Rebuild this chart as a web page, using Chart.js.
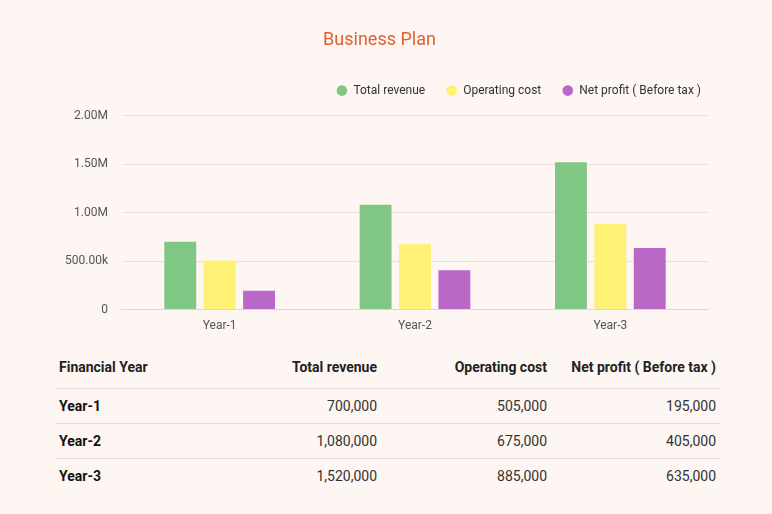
<!DOCTYPE html>
<html>
<head>
<meta charset="utf-8">
<script src="https://cdn.jsdelivr.net/npm/chart.js@4/dist/chart.umd.min.js"></script>
<style>
  html, body { margin: 0; padding: 0; background: #fdf6f2; width: 772px; height: 514px; overflow: hidden; font-family: Roboto, "Noto Sans", sans-serif; }
  #wrap { position: absolute; left: 0; top: 0; width: 772px; height: 340px; }
  table { position: absolute; left: 55px; top: 346px; width: 665px; border-collapse: collapse; font-size: 14px; color: #222; table-layout: fixed; }
  th { font-weight: bold; height: 42px; padding: 0 4px; }
  td { height: 34px; padding: 0 4px; color: #333; }
  td.first { font-weight: bold; color: #111; }
  tr + tr td { border-top: 1px solid #e2dcd8; }
  th.l, td.l { text-align: left; }
  th.r, td.r { text-align: right; }
</style>
</head>
<body>
<div id="wrap"><canvas id="c" width="772" height="340"></canvas></div>
<table id="tbl">
  <colgroup><col style="width:156px"><col style="width:170px"><col style="width:170px"><col style="width:169px"></colgroup>
</table>
<script>
const categories = ["Year-1", "Year-2", "Year-3"];
const seriesNames = ["Total revenue", "Operating cost", "Net profit ( Before tax )"];
const totalRevenue = [700000, 1080000, 1520000];
const operatingCost = [505000, 675000, 885000];
const netProfit = [195000, 405000, 635000];
const yTicks = [0, 500000, 1000000, 1500000, 2000000];
const tableHeader = "Financial Year";
const colors = ["#81c784", "#fff176", "#ba68c8"];

function fmtTick(v) {
  if (v === 0) return "0";
  if (v >= 1000000) return (v / 1000000).toFixed(2) + "M";
  return (v / 1000).toFixed(2) + "k";
}

// Table
const tbl = document.getElementById("tbl");
let html = '<tr class="hdr"><th class="l">' + tableHeader + '</th>' + seriesNames.map(s => '<th class="r">' + s + '</th>').join('') + '</tr>';
categories.forEach((c, i) => {
  html += '<tr><td class="l first">' + c + '</td>' +
    [totalRevenue[i], operatingCost[i], netProfit[i]].map(v => '<td class="r">' + v.toLocaleString('en-US') + '</td>').join('') + '</tr>';
});
tbl.insertAdjacentHTML('beforeend', html);

const legendTweak = {
  id: "legendTweak",
  beforeLayout(chart) {
    const lg = chart.legend;
    if (lg && !lg._tweaked) {
      const origFit = lg.fit;
      lg.fit = function () { origFit.call(this); this.height += 9; };
      lg._tweaked = true;
    }
  },
  afterLayout(chart) {
    const lg = chart.legend;
    if (lg) { lg.left += 14; lg.right += 14; }
  }
};

Chart.defaults.font.family = "Roboto, 'Noto Sans', sans-serif";
new Chart(document.getElementById("c"), {
  type: "bar",
  data: {
    labels: categories,
    datasets: [
      { label: seriesNames[0], data: totalRevenue, backgroundColor: colors[0] },
      { label: seriesNames[1], data: operatingCost, backgroundColor: colors[1] },
      { label: seriesNames[2], data: netProfit, backgroundColor: colors[2] }
    ]
  },
  plugins: [legendTweak],
  options: {
    responsive: false,
    animation: false,
    layout: { padding: { left: 51, right: 64, top: 30, bottom: 6 } },
    datasets: { bar: { barPercentage: 0.81, categoryPercentage: 0.605 } },
    plugins: {
      title: {
        display: true, text: "Business Plan", color: "#e0612f",
        font: { size: 18, weight: "normal" }, padding: { top: 0, bottom: 12 }
      },
      legend: {
        position: "top", align: "end",
        labels: { usePointStyle: true, pointStyle: "circle", boxWidth: 11, boxHeight: 7.5, color: "#333", font: { size: 12 }, padding: 21 }
      },
      tooltip: { enabled: false }
    },
    scales: {
      x: {
        grid: { display: false },
        border: { color: "#ddd6d2" },
        ticks: { color: "#555", font: { size: 12 }, padding: 1 }
      },
      y: {
        min: 0, max: 2000000,
        afterBuildTicks: (axis) => { axis.ticks = yTicks.map(v => ({ value: v })); },
        grid: { color: "#e8e0dc", drawTicks: false },
        border: { display: false },
        ticks: { color: "#555", font: { size: 12 }, padding: 14, callback: (v) => fmtTick(v) }
      }
    }
  }
});
</script>
</body>
</html>
